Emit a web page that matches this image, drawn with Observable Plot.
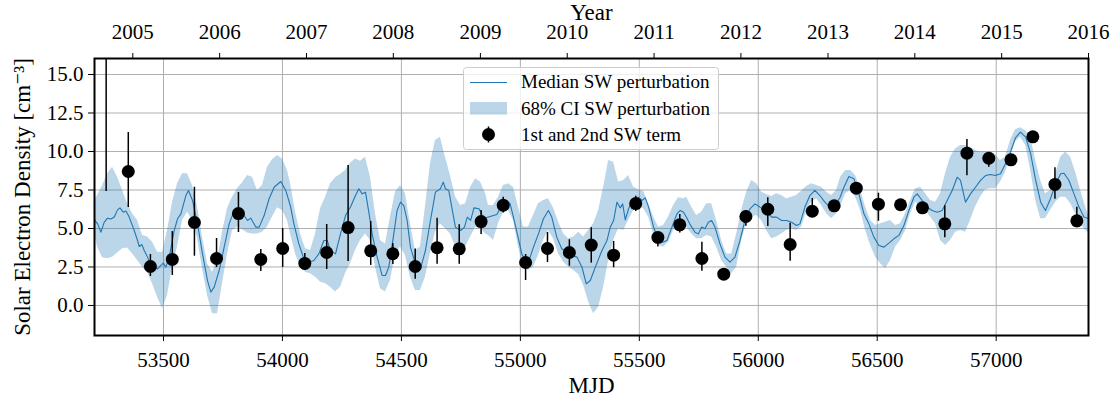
<!DOCTYPE html>
<html>
<head>
<meta charset="utf-8">
<script src="https://cdn.jsdelivr.net/npm/d3@7"></script>
<script src="https://cdn.jsdelivr.net/npm/@observablehq/plot@0.6"></script>
<style>
  html, body { margin: 0; padding: 0; background: #fff; }
  #chart svg { display: block; }
</style>
</head>
<body>
<div id="chart"></div>
<script>
// ---- data ----
const mjdTicks = [53500, 54000, 54500, 55000, 55500, 56000, 56500, 57000];
const yTicks = [0, 2.5, 5, 7.5, 10, 12.5, 15];
const yearLabels = ["2005","2006","2007","2008","2009","2010","2011","2012","2013","2014","2015","2016"];
const yearMjd = [53371, 53736, 54101, 54466, 54832, 55197, 55562, 55927, 56293, 56658, 57023, 57388];

// 1st and 2nd SW term (points with error bars)
const ptMjd = [53259, 53352, 53445, 53537, 53630, 53723, 53815, 53909, 54001, 54094, 54186, 54276, 54371, 54464, 54558, 54650, 54743, 54835, 54928, 55022, 55114, 55206, 55298, 55392, 55485, 55578, 55670, 55763, 55855, 55948, 56040, 56134, 56227, 56319, 56412, 56505, 56598, 56690, 56784, 56877, 56969, 57062, 57154, 57247, 57339];
const ptVal = [17.5, 8.70, 2.53, 2.99, 5.39, 3.05, 5.97, 2.99, 3.70, 2.73, 3.44, 5.06, 3.55, 3.36, 2.53, 3.75, 3.68, 5.45, 6.51, 2.79, 3.70, 3.44, 3.92, 3.27, 6.62, 4.42, 5.24, 3.05, 2.03, 5.78, 6.25, 3.96, 6.12, 6.47, 7.62, 6.58, 6.54, 6.34, 5.30, 9.89, 9.56, 9.46, 10.95, 7.86, 5.50];
const ptLo = [7.4, 6.36, 1.88, 1.95, 3.20, 2.47, 4.74, 2.21, 2.47, 2.27, 2.34, 2.86, 2.60, 2.66, 1.71, 2.68, 2.68, 4.61, 6.00, 1.62, 2.79, 2.55, 2.75, 2.45, 6.10, 3.79, 4.70, 2.23, 2.03, 5.15, 5.13, 2.88, 5.73, 6.30, 7.50, 5.47, 6.12, 6.20, 4.40, 8.42, 8.98, 9.30, 10.85, 6.90, 5.05];
const ptHi = [27.0, 11.23, 3.31, 4.80, 7.68, 4.35, 7.34, 3.64, 5.00, 3.38, 5.26, 9.09, 5.45, 4.03, 3.66, 5.67, 5.24, 6.17, 7.03, 3.31, 4.74, 4.27, 5.05, 4.16, 7.10, 4.76, 5.91, 4.11, 2.03, 6.17, 6.99, 5.34, 6.95, 6.60, 7.75, 7.29, 6.80, 6.50, 6.47, 10.78, 9.85, 9.60, 11.05, 8.94, 6.38];

// Median SW perturbation
const medMjd = [53210,53223,53237,53251,53265,53279,53293,53307,53317,53331,53342,53356,53377,53391,53398,53409,53419,53433,53443,53454,53475,53489,53499,53510,53524,53545,53559,53573,53594,53605,53622,53643,53664,53685,53699,53713,53734,53755,53776,53797,53818,53839,53853,53867,53888,53902,53923,53944,53965,53993,54014,54034,54048,54069,54090,54111,54132,54153,54174,54188,54202,54223,54244,54265,54286,54307,54321,54335,54349,54363,54377,54398,54419,54433,54447,54468,54482,54496,54510,54524,54538,54559,54580,54601,54622,54643,54664,54676,54685,54699,54713,54727,54749,54765,54777,54791,54805,54826,54847,54866,54887,54901,54922,54943,54957,54971,54992,55006,55020,55041,55055,55076,55097,55118,55132,55153,55174,55195,55217,55238,55259,55277,55294,55315,55343,55364,55378,55392,55406,55420,55430,55441,55455,55469,55483,55497,55511,55525,55539,55560,55581,55595,55616,55637,55658,55672,55686,55699,55712,55734,55748,55762,55776,55790,55804,55818,55839,55860,55881,55902,55923,55944,55965,55986,56007,56035,56056,56077,56098,56119,56140,56161,56175,56196,56217,56238,56259,56280,56301,56322,56343,56360,56381,56402,56423,56444,56465,56486,56507,56528,56549,56570,56591,56612,56633,56654,56668,56689,56710,56731,56752,56773,56794,56815,56836,56850,56871,56892,56913,56934,56955,56976,56997,57018,57039,57060,57081,57102,57124,57145,57166,57187,57207,57228,57250,57271,57285,57306,57327,57348,57369,57390];
const medVal = [5.56,5.30,4.76,5.41,5.67,5.61,5.74,6.21,6.34,6.06,6.13,5.74,4.87,4.22,3.83,3.96,3.57,3.14,2.71,2.49,2.38,2.60,2.75,2.49,3.14,4.87,5.63,5.95,7.14,7.47,6.82,5.30,3.35,1.62,0.87,1.19,2.27,3.79,5.30,6.17,6.28,5.84,5.52,5.67,5.09,5.09,5.84,6.93,7.68,8.05,7.47,6.43,5.30,4.00,3.03,2.81,2.92,3.35,4.22,4.22,3.57,3.35,4.65,5.84,6.39,7.14,7.58,7.25,7.36,6.06,4.65,3.14,1.95,1.95,2.49,4.65,6.17,6.71,6.49,5.52,3.79,2.71,2.38,3.57,5.52,7.36,7.58,8.01,7.58,7.47,6.28,5.09,4.87,5.09,5.74,5.52,6.34,6.28,5.63,5.74,5.84,5.91,6.49,6.82,6.60,5.74,4.33,3.35,2.92,3.14,3.79,4.65,5.63,6.17,5.74,4.44,3.68,3.46,3.25,3.14,2.49,1.41,1.62,2.49,3.57,4.22,5.09,5.52,6.71,6.34,6.60,5.56,6.28,6.82,6.71,7.03,6.82,6.99,6.39,5.09,4.22,4.09,4.22,5.09,5.95,6.17,6.06,5.70,5.30,4.76,4.65,5.09,4.98,5.41,5.52,5.09,4.00,3.14,2.81,3.14,4.22,5.52,6.28,6.60,6.39,6.06,5.74,5.74,5.52,5.52,5.41,5.19,5.30,6.39,7.14,7.47,7.14,6.71,6.39,6.49,7.00,7.68,8.38,8.23,7.25,5.95,5.30,4.44,3.90,3.79,4.05,4.33,4.55,5.19,6.17,7.03,7.25,6.82,6.39,6.17,6.06,6.17,6.82,7.47,8.33,8.12,6.71,7.25,7.68,8.12,8.44,8.51,8.44,8.55,9.20,9.96,10.89,11.26,10.93,9.85,8.12,6.71,6.17,6.93,7.90,8.55,8.59,8.12,7.25,6.39,5.74,5.63];

// 68% CI SW perturbation
const bandMjd = [53210,53223,53244,53265,53286,53307,53328,53349,53370,53391,53412,53433,53454,53475,53496,53517,53538,53559,53580,53601,53622,53643,53664,53685,53706,53727,53748,53769,53790,53811,53832,53853,53874,53895,53916,53937,53958,53979,54000,54021,54034,54055,54076,54097,54118,54139,54160,54181,54202,54223,54244,54265,54286,54307,54328,54349,54370,54391,54412,54433,54454,54475,54496,54517,54538,54559,54580,54601,54622,54643,54664,54685,54706,54728,54749,54770,54791,54812,54833,54854,54866,54887,54908,54929,54950,54971,54992,55013,55034,55055,55076,55097,55118,55139,55161,55182,55203,55224,55245,55266,55287,55308,55329,55350,55371,55392,55413,55434,55455,55476,55497,55518,55539,55560,55581,55602,55623,55644,55665,55686,55699,55720,55741,55762,55783,55804,55825,55846,55867,55888,55909,55930,55951,55972,55993,56014,56035,56056,56077,56098,56119,56140,56161,56182,56203,56224,56245,56266,56287,56308,56329,56346,56367,56388,56409,56430,56451,56472,56493,56514,56535,56556,56577,56598,56619,56640,56661,56682,56703,56724,56745,56766,56787,56808,56829,56850,56871,56892,56913,56934,56955,56976,56997,57018,57039,57060,57081,57102,57124,57145,57166,57187,57207,57228,57250,57271,57292,57313,57334,57355,57376,57390];
const bandHi = [6.82,7.14,7.79,8.55,8.98,8.33,7.47,6.60,5.95,5.52,4.55,4.44,4.11,3.46,3.46,4.87,6.71,7.90,8.55,8.55,7.79,6.39,4.44,2.71,2.16,2.92,4.76,6.28,7.03,7.58,7.95,8.44,8.33,7.47,7.79,8.98,9.46,9.74,9.52,8.77,7.90,6.06,4.65,3.68,3.57,4.65,6.28,7.03,7.90,8.29,8.51,8.77,9.24,9.52,9.37,9.63,8.33,5.95,4.22,4.00,5.74,7.36,7.79,7.25,5.30,3.57,3.79,6.39,9.20,10.71,10.93,9.63,8.44,7.03,6.49,6.60,7.68,8.23,8.01,7.25,6.49,6.49,7.03,7.79,7.90,7.68,6.39,5.09,5.09,5.84,6.60,6.82,6.93,6.34,5.41,4.65,4.33,4.44,4.76,4.44,4.87,5.30,6.17,7.68,9.41,9.31,8.01,8.12,8.44,7.68,7.51,7.42,6.60,5.74,5.09,5.19,5.74,6.49,6.99,6.93,7.03,6.39,5.84,6.06,6.60,6.60,5.52,4.22,3.35,3.35,4.65,6.17,7.36,8.12,7.90,7.36,7.20,7.07,7.25,7.14,6.93,7.03,7.14,7.42,7.73,7.90,7.79,7.68,7.36,7.14,7.47,8.33,8.77,8.77,8.44,7.47,6.39,5.52,5.19,5.30,5.41,5.52,5.19,5.30,5.95,6.82,7.58,7.68,7.25,6.82,6.71,7.25,8.55,9.63,10.17,10.39,10.39,10.28,10.06,9.96,9.96,9.96,9.81,9.42,9.63,10.71,11.41,11.54,11.36,10.93,9.41,8.12,7.25,7.47,8.55,9.63,9.96,9.63,8.66,7.47,6.39,5.74];
const bandLo = [4.65,3.79,3.10,3.03,3.14,3.40,3.68,3.74,3.35,2.92,2.49,2.16,1.41,0.54,-0.22,0.65,2.49,3.79,5.52,6.06,5.52,4.33,2.38,0.65,-0.54,-0.54,1.41,3.35,4.87,5.09,4.92,4.70,4.65,4.65,4.76,5.09,5.74,6.34,6.17,5.52,4.65,3.35,2.49,2.16,2.06,1.84,1.52,1.41,1.19,0.87,1.19,2.06,2.71,3.57,4.22,4.65,4.22,2.49,1.08,0.87,1.62,3.35,3.79,3.25,1.84,0.97,0.97,1.84,3.35,4.76,5.30,4.98,4.65,3.79,3.46,3.79,4.44,5.09,4.98,4.65,4.55,4.22,5.30,6.06,6.17,5.52,3.79,2.49,2.27,2.49,3.25,4.22,4.87,4.33,3.35,2.81,2.49,2.27,2.01,1.30,0.22,-0.54,-0.11,1.19,2.92,4.22,4.98,4.87,5.52,6.17,6.39,6.28,5.74,4.65,3.90,3.79,4.11,4.87,5.19,5.09,5.09,4.65,4.33,4.33,4.55,4.44,3.79,2.92,2.49,2.06,2.49,4.22,5.30,5.74,5.84,5.52,4.87,4.33,4.44,4.65,4.87,4.98,4.87,5.09,6.06,6.71,6.93,6.49,5.95,5.63,5.95,6.39,7.25,7.47,7.03,6.17,4.87,3.90,3.14,2.71,2.38,2.92,3.79,4.22,4.87,5.95,6.71,6.49,6.17,5.74,5.30,4.22,3.90,4.22,4.76,4.87,4.76,5.52,6.39,7.03,7.51,7.58,7.58,8.01,8.66,9.63,10.61,10.93,10.39,8.77,6.82,5.63,5.63,6.17,6.71,7.03,7.03,6.60,5.95,5.30,4.87,4.70];

// ---- build tables ----
const points = ptMjd.map((m, i) => ({mjd: m, val: ptVal[i], lo: ptLo[i], hi: ptHi[i]}));
const median = medMjd.map((m, i) => ({mjd: m, val: medVal[i]}));
const band = bandMjd.map((m, i) => ({mjd: m, lo: bandLo[i], hi: bandHi[i]}));
const yearOf = new Map(yearMjd.map((m, i) => [m, yearLabels[i]]));

const BLUE = "#1f77b4";
const FONT = "'Liberation Serif', 'DejaVu Serif', serif";

const chart = Plot.plot({
  width: 1117,
  height: 402,
  marginLeft: 94,
  marginRight: 29,
  marginTop: 58,
  marginBottom: 67,
  style: {fontFamily: FONT, fontSize: "21px", background: "#fff", color: "#000"},
  x: {domain: [53210, 57388]},
  y: {domain: [-1.95, 16.04]},
  marks: [
    Plot.gridX(mjdTicks, {stroke: "#b0b0b0", strokeOpacity: 1, strokeWidth: 1}),
    Plot.gridY(yTicks, {stroke: "#b0b0b0", strokeOpacity: 1, strokeWidth: 1}),
    Plot.areaY(band, {x: "mjd", y1: "lo", y2: "hi", fill: BLUE, fillOpacity: 0.3, curve: "linear", clip: true}),
    Plot.line(median, {x: "mjd", y: "val", stroke: BLUE, strokeWidth: 1.1, clip: true}),
    Plot.ruleX(points, {x: "mjd", y1: "lo", y2: "hi", stroke: "#000", strokeWidth: 1.5, clip: true}),
    Plot.dot(points, {x: "mjd", y: "val", r: 6.5, fill: "#000", stroke: null, clip: true}),
    Plot.frame({stroke: "#000", strokeWidth: 2}),
    Plot.axisX(mjdTicks, {anchor: "bottom", tickSize: 6, tickPadding: 11, tickFormat: d => String(d), fontSize: 21, label: null}),
    Plot.text(["MJD"], {frameAnchor: "bottom", lineAnchor: "middle", dy: 50, fontSize: 23, fill: "#000"}),
    Plot.axisX(yearMjd, {anchor: "top", tickSize: 6, tickPadding: 14, tickFormat: d => yearOf.get(d), fontSize: 21, label: null}),
    Plot.text(["Year"], {frameAnchor: "top", lineAnchor: "middle", dy: -46, fontSize: 23, fill: "#000"}),
    Plot.axisY(yTicks, {anchor: "left", tickSize: 6, tickPadding: 5, tickFormat: d => d.toFixed(1), fontSize: 21, label: null}),
    Plot.text(["Solar Electron Density [cm⁻³]"], {frameAnchor: "left", textAnchor: "middle", lineAnchor: "middle", dx: -72, rotate: -90, fontSize: 23, fill: "#000"})
  ]
});

document.getElementById("chart").appendChild(chart);

// ---- legend (inside the plot, top centre) ----
const svg = d3.select(chart.tagName.toLowerCase() === "svg" ? chart : chart.querySelector("svg"));
const lg = svg.append("g").attr("font-family", FONT).attr("font-size", 19).attr("text-anchor", "start");
lg.append("rect").attr("x", 463.5).attr("y", 67.5).attr("width", 255).attr("height", 82).attr("rx", 3)
  .attr("fill", "#fff").attr("fill-opacity", 0.8).attr("stroke", "#cccccc").attr("stroke-width", 1);
lg.append("line").attr("x1", 470).attr("x2", 507).attr("y1", 82.5).attr("y2", 82.5)
  .attr("stroke", BLUE).attr("stroke-width", 1.1);
lg.append("rect").attr("x", 470).attr("y", 102).attr("width", 37).attr("height", 12.5)
  .attr("fill", BLUE).attr("fill-opacity", 0.3);
lg.append("line").attr("x1", 488.5).attr("x2", 488.5).attr("y1", 126.5).attr("y2", 142.5)
  .attr("stroke", "#000").attr("stroke-width", 1.5);
lg.append("circle").attr("cx", 488.5).attr("cy", 134.5).attr("r", 6.5).attr("fill", "#000");
const labels = ["Median SW perturbation", "68% CI SW perturbation", "1st and 2nd SW term"];
const baselines = [88, 114.5, 141];
labels.forEach((t, i) => lg.append("text").attr("x", 521).attr("y", baselines[i]).attr("fill", "#000").text(t));
</script>
</body>
</html>
